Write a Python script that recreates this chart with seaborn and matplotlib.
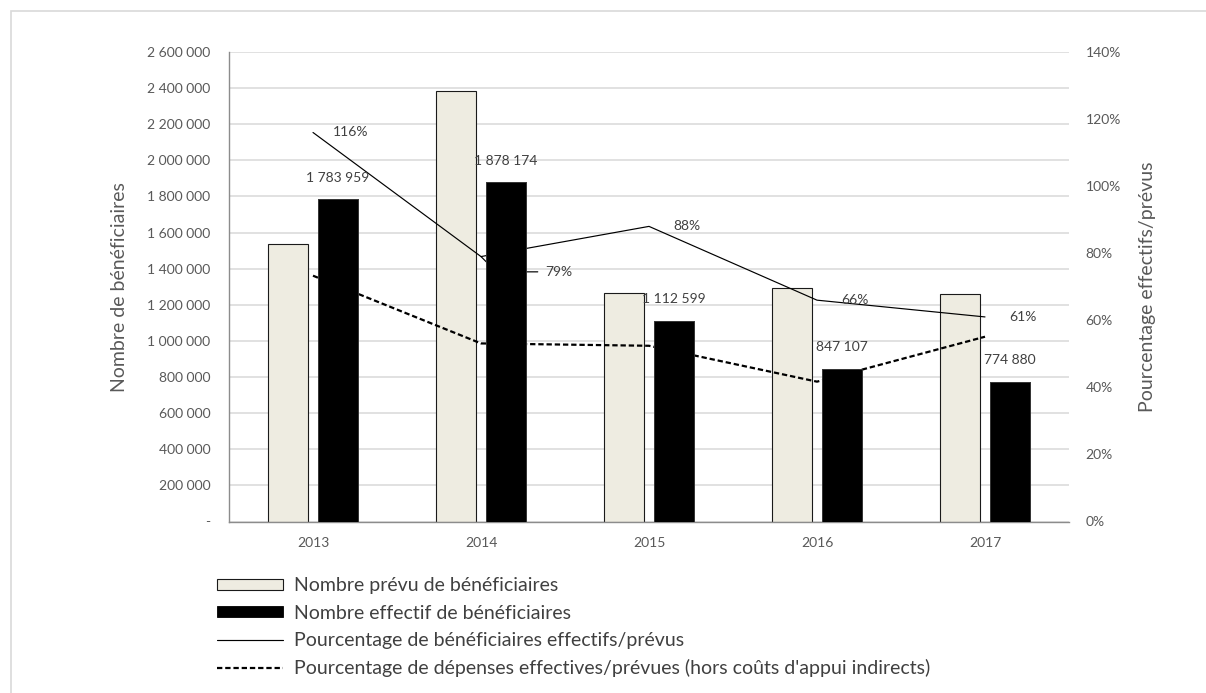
import numpy as np
import pandas as pd
import matplotlib
matplotlib.use("Agg")
import matplotlib.pyplot as plt
import seaborn as sns
from matplotlib.ticker import FuncFormatter, MultipleLocator, PercentFormatter
from matplotlib.patches import Patch, Rectangle
from matplotlib.lines import Line2D

# ---- data -------------------------------------------------------------
years = ["2013", "2014", "2015", "2016", "2017"]
prevus = [1537000, 2384000, 1267000, 1293000, 1262000]
effectifs = [1783959, 1878174, 1112599, 847107, 774880]
pct_beneficiaires = [1.16, 0.79, 0.88, 0.66, 0.61]
pct_depenses = [0.733, 0.531, 0.524, 0.417, 0.551]

serie_prevu = "Nombre prévu de bénéficiaires"
serie_effectif = "Nombre effectif de bénéficiaires"
label_pct_benef = "Pourcentage de bénéficiaires effectifs/prévus"
label_pct_dep = "Pourcentage de dépenses effectives/prévues (hors coûts d'appui indirects)"

df_bars = pd.DataFrame({
    "annee": years * 2,
    "serie": [serie_prevu] * len(years) + [serie_effectif] * len(years),
    "valeur": prevus + effectifs,
})
df_lines = pd.DataFrame({
    "pos": np.arange(len(years)),
    "benef": pct_beneficiaires,
    "dep": pct_depenses,
})

# ---- style ------------------------------------------------------------
sns.set_theme(style="white")
plt.rcParams["font.family"] = ["Lato", "DejaVu Sans"]

C_PREVU = "#eeece1"
C_EFFECTIF = "#000000"
C_GRID = "#d9d9d9"
C_TICK = "#595959"
C_TEXT = "#404040"
palette = {serie_prevu: C_PREVU, serie_effectif: C_EFFECTIF}

W, H = 1206, 693
fig = plt.figure(figsize=(W / 100, H / 100), dpi=100)
fig.patch.set_facecolor("white")

# frame around the chart area
fig.add_artist(Rectangle((10.5 / W, -0.05), 1.2, 1.05 - 11.5 / H,
                         transform=fig.transFigure, fill=False,
                         edgecolor=C_GRID, lw=1.2))

pos = [229 / W, 1 - 521.5 / H, 840 / W, 469.5 / H]
ax = fig.add_axes(pos)

bar_kw = dict(data=df_bars, x="annee", y="valeur", hue="serie",
              hue_order=[serie_prevu, serie_effectif], order=years,
              palette=palette, width=0.588, gap=0.19, saturation=1,
              legend=False)

# both series on the base layer (planned bars stay visible here)
sns.barplot(ax=ax, edgecolor="#1a1a1a", linewidth=0.8, **bar_kw)
for bar in ax.containers[1]:
    bar.set_edgecolor("#3a3a3a")
    bar.set_linewidth(0.6)

ax.set_axisbelow(True)
ax.grid(axis="y", color=C_GRID, lw=1.1)
ax.grid(axis="x", visible=False)
ax.set_xlim(-0.5, len(years) - 0.5)
ax.set_ylim(0, 2600000)
ax.yaxis.set_major_locator(MultipleLocator(200000))
ax.yaxis.set_major_formatter(FuncFormatter(
    lambda v, p: "-" if v == 0 else f"{v:,.0f}".replace(",", " ")))
ax.tick_params(axis="y", length=0, pad=13.5, labelsize=10, labelcolor=C_TICK)
ax.tick_params(axis="x", length=0, pad=11, labelsize=10, labelcolor=C_TICK)
for s in ("top", "right"):
    ax.spines[s].set_visible(False)
for s in ("left", "bottom"):
    ax.spines[s].set_color("#8c8c8c")
    ax.spines[s].set_linewidth(1.0)
ax.set_xlabel("")
ax.set_ylabel("Nombre de bénéficiaires", fontsize=14, color=C_TICK)
ax.yaxis.label.set_va("center")
ax.yaxis.set_label_coords(-0.1298, 0.5)

# percentage lines on the secondary axis (middle layer)
ax2 = ax.twinx()
sns.lineplot(data=df_lines, x="pos", y="benef", color="black", lw=0.85, ax=ax2)
sns.lineplot(data=df_lines, x="pos", y="dep", color="black", lw=1.6, ax=ax2)
ax2.lines[-1].set_linestyle((0, (2.4, 1.3)))
ax2.set_ylim(0, 1.4)
ax2.yaxis.set_major_locator(MultipleLocator(0.2))
ax2.yaxis.set_major_formatter(PercentFormatter(1.0, decimals=0))
ax2.tick_params(axis="y", length=0, pad=12, labelsize=10, labelcolor=C_TICK)
for s in ax2.spines.values():
    s.set_visible(False)
ax2.grid(False)
ax2.set_xlabel("")
ax2.set_ylabel("Pourcentage effectifs/prévus", fontsize=14, color=C_TICK)
ax2.yaxis.label.set_va("center")
ax2.yaxis.set_label_coords(1.094, 0.5)

for i, v in enumerate(pct_beneficiaires):
    txt = f"{round(v * 100)}%"
    if i == 1:
        # label pushed aside with a leader line that runs behind the bar
        ax2.annotate(txt, (i, v), xytext=(56, -11), textcoords="offset points",
                     ha="center", va="center", fontsize=10, color=C_TEXT,
                     arrowprops=dict(arrowstyle="-", color="black", lw=0.85,
                                     connectionstyle="angle,angleA=0,angleB=-45,rad=0",
                                     shrinkA=3, shrinkB=0))
    else:
        ax2.annotate(txt, (i, v), xytext=(27, 0), textcoords="offset points",
                     ha="center", va="center", fontsize=10, color=C_TEXT)

# actual counts redrawn on top of the lines
ax3 = fig.add_axes(pos, sharex=ax, sharey=ax)
ax3.patch.set_visible(False)
sns.barplot(ax=ax3, edgecolor="#3a3a3a", linewidth=0.6, **bar_kw)
for bar in ax3.containers[0]:
    bar.set_visible(False)
ax3.bar_label(ax3.containers[1],
              labels=[f"{v:,}".replace(",", " ") for v in effectifs],
              padding=11, fontsize=10, color=C_TEXT)
ax3.axis("off")
ax.set_xlim(-0.5, len(years) - 0.5)
ax.set_ylim(0, 2600000)

# legend below the plot
handles = [
    Patch(facecolor=C_PREVU, edgecolor="#1a1a1a", lw=0.8),
    Patch(facecolor=C_EFFECTIF, edgecolor=C_EFFECTIF, lw=0.6),
    Line2D([], [], color="black", lw=0.85),
    Line2D([], [], color="black", lw=1.6, linestyle=(0, (2.4, 1.3))),
]
labels = [serie_prevu, serie_effectif, label_pct_benef, label_pct_dep]
fig.legend(handles, labels, loc="upper left",
           bbox_to_anchor=(216.7 / W, 1 - 577.5 / H), frameon=False,
           fontsize=14, handlelength=3.4, handleheight=0.5,
           labelspacing=0.52, handletextpad=0.57, borderpad=0,
           borderaxespad=0, labelcolor=C_TEXT)

fig.savefig("out.png", dpi=100, facecolor="white")
